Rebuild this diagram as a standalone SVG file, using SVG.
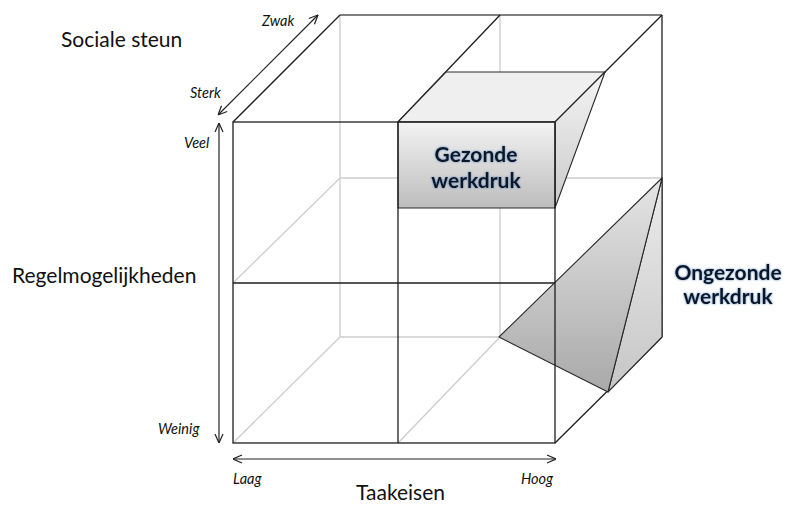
<svg xmlns="http://www.w3.org/2000/svg" width="785" height="506" viewBox="0 0 785 506">
<style>
.dark{stroke:#1e1e1e;stroke-width:1.3;fill:none}
.mid{stroke:#555;stroke-width:1.3;fill:none}
.light{stroke:#cdcdcd;stroke-width:1.3;fill:none}
.edge{stroke:#2a2a2a;stroke-width:1.1;stroke-linejoin:round}
.lbl{font-family:Lato,"Liberation Sans",sans-serif;font-size:21px;fill:#111}
.it{font-family:Lato,"Liberation Sans",sans-serif;font-style:italic;font-size:14.5px;fill:#111}
.bold{font-family:Lato,"Liberation Sans",sans-serif;font-weight:bold;font-size:21px;fill:#0b1628;text-anchor:middle;filter:url(#glow)}
.arr{stroke:#222;stroke-width:1.2;fill:none;marker-start:url(#ah);marker-end:url(#ah)}
</style>
<defs>
<marker id="ah" viewBox="0 0 10 10" refX="10" refY="5" markerWidth="10" markerHeight="10" markerUnits="userSpaceOnUse" orient="auto-start-reverse">
<path d="M1,1 L10,5 L1,9" fill="none" stroke="#222" stroke-width="1.2"/>
</marker>
<linearGradient id="gFront" x1="0" y1="0" x2="0" y2="1">
<stop offset="0" stop-color="#f3f3f3"/><stop offset="1" stop-color="#bdbdbd"/>
</linearGradient>
<linearGradient id="gSide" x1="0" y1="0" x2="0" y2="1">
<stop offset="0" stop-color="#f4f4f4"/><stop offset="1" stop-color="#cacaca"/>
</linearGradient>
<linearGradient id="gTri" x1="0" y1="0" x2="0" y2="1">
<stop offset="0" stop-color="#e6e6e6"/><stop offset="1" stop-color="#a9a9a9"/>
</linearGradient>
<linearGradient id="gTri2" x1="0" y1="0" x2="0" y2="1">
<stop offset="0" stop-color="#ececec"/><stop offset="1" stop-color="#c6c6c6"/>
</linearGradient>
<filter id="glow" x="-20%" y="-40%" width="140%" height="180%">
<feGaussianBlur in="SourceAlpha" stdDeviation="1.2" result="b"/>
<feFlood flood-color="#3b6ea8" flood-opacity="0.8"/>
<feComposite in2="b" operator="in" result="s"/>
<feMerge><feMergeNode in="s"/><feMergeNode in="SourceGraphic"/></feMerge>
</filter>
</defs>
<rect width="785" height="506" fill="#fff"/>

<g id="cube-back">
<line class="light" x1="340" y1="15" x2="340" y2="337"/>
<line class="light" x1="500" y1="15" x2="500" y2="337"/>
<line class="light" x1="340" y1="178" x2="662" y2="178"/>
<line class="light" x1="340" y1="337" x2="662" y2="337"/>
<line class="light" x1="233" y1="283" x2="340" y2="178"/>
<line class="light" x1="233" y1="443" x2="340" y2="337"/>
<line class="light" x1="398" y1="443" x2="500" y2="337"/>
</g>

<g id="cube-top">
<line class="mid" x1="340" y1="15" x2="662" y2="15"/>
<line class="dark" x1="233" y1="122" x2="340" y2="15"/>
<line class="dark" x1="398" y1="122" x2="500" y2="15"/>
<line class="dark" x1="555" y1="122" x2="662" y2="15"/>
<line class="dark" x1="662" y1="15" x2="662" y2="337"/>
<line class="dark" x1="555" y1="443" x2="662" y2="337"/>
</g>

<g id="gezonde">
<polygon class="edge" points="398,122 446,72 605,72 555,122" fill="#efefef"/>
<polygon class="edge" points="555,122 605,72 555,208" fill="url(#gSide)"/>
<rect class="edge" x="398" y="122" width="157" height="86" fill="url(#gFront)"/>
<text class="bold" x="476" y="162">Gezonde</text>
<text class="bold" x="476" y="188">werkdruk</text>
</g>

<g id="ongezonde">
<polygon class="edge" points="662,178 662,337 608,392" fill="url(#gTri2)"/>
<polygon class="edge" points="662,178 499,337 608,392" fill="url(#gTri)"/>
<text class="bold" x="728" y="280">Ongezonde</text>
<text class="bold" x="728" y="304">werkdruk</text>
</g>

<g id="cube-front">
<rect class="dark" x="233" y="122" width="322" height="321"/>
<line class="dark" x1="398" y1="122" x2="398" y2="443"/>
<line class="dark" x1="233" y1="283" x2="555" y2="283"/>
</g>

<g id="connectors">
<line class="arr" x1="218" y1="115" x2="318" y2="15"/>
<line class="arr" x1="219" y1="123" x2="219" y2="443"/>
<line class="arr" x1="233" y1="459" x2="556" y2="459"/>
</g>

<g id="labels">
<text class="lbl" x="61" y="47">Sociale steun</text>
<text class="lbl" x="12" y="283">Regelmogelijkheden</text>
<text class="lbl" x="356" y="500">Taakeisen</text>
<text class="it" x="262" y="26">Zwak</text>
<text class="it" x="190" y="98">Sterk</text>
<text class="it" x="184" y="148">Veel</text>
<text class="it" x="158" y="434">Weinig</text>
<text class="it" x="233" y="484">Laag</text>
<text class="it" x="521" y="484">Hoog</text>
</g>
</svg>
